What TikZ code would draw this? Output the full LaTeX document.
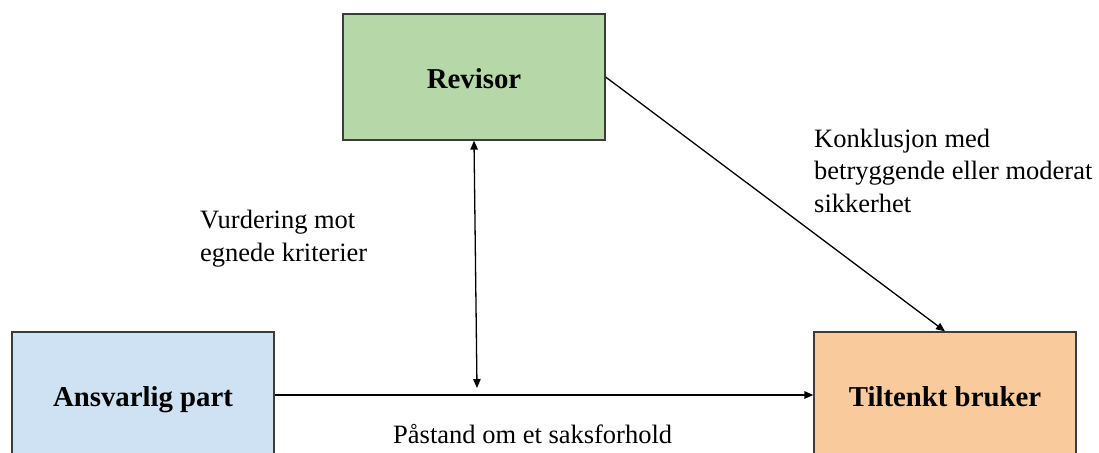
\documentclass[tikz,border=0pt]{standalone}
\usepackage{fontspec}
\setmainfont{Liberation Serif}
\usetikzlibrary{arrows.meta}
\definecolor{revgreen}{HTML}{B6D7A8}
\definecolor{partblue}{HTML}{CFE2F3}
\definecolor{userorange}{HTML}{F9CB9C}
\definecolor{edgegray}{HTML}{3C3C3C}
\tikzset{
  party/.style={draw=edgegray, line width=1.3pt, minimum width=262pt,
    minimum height=126pt, inner sep=0pt, anchor=center,
    text height=23pt, text depth=0pt,
    font=\fontsize{28.8}{34}\selectfont\bfseries},
  flow/.style={draw=black, line width=1.3pt,
    -{Triangle[length=9pt,width=7.5pt]}},
  twoway/.style={draw=black, line width=1.3pt,
    {Triangle[length=9pt,width=7.5pt]}-{Triangle[length=9pt,width=7.5pt]}},
  note/.style={anchor=base west, inner sep=0pt, align=left,
    font=\fontsize{26.5}{32.5}\selectfont}
}
\begin{document}
\begin{tikzpicture}[x=1pt,y=-1pt]
  \useasboundingbox (0,0) rectangle (1099,452);
  \clip (0,0) rectangle (1099,452);

  % the three parties
  \node[party, fill=revgreen]   (revisor) at (474,77)  {Revisor};
  \node[party, fill=partblue]   (part)    at (143,395) {Ansvarlig part};
  \node[party, fill=userorange] (bruker)  at (945,395) {Tiltenkt bruker};

  % where the auditor's assessment meets the assertion flow
  \coordinate (meet) at (477,388);

  % connectors
  \draw[flow] (part.east) -- (bruker.west);
  \draw[twoway] (revisor.south) -- (meet);
  \draw[flow] (revisor.east) -- (bruker.north);

  % labels (base anchor sits on the last line)
  \node[note] (vurdering) at (200,261) {Vurdering mot\\egnede kriterier};
  \node[note] (konklusjon) at (814,212) {Konklusjon med\\betryggende eller moderat\\sikkerhet};
  \node[note] (pastand) at (393,443) {Påstand om et saksforhold};
\end{tikzpicture}
\end{document}
